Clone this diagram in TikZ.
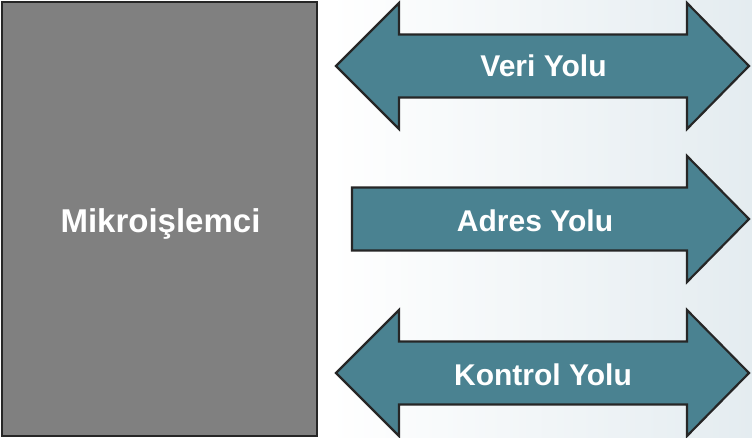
\documentclass[tikz,border=0pt]{standalone}
\usepackage{fontspec}
\setmainfont{Liberation Sans}
\usepackage{tikz}
\definecolor{busfill}{HTML}{4A8291}
\definecolor{boxfill}{HTML}{808080}
\definecolor{edge}{HTML}{262626}
\definecolor{bgright}{HTML}{E4ECF0}
\tikzstyle{bus}=[fill=busfill,draw=edge,line width=2.2pt,line join=miter]
\tikzstyle{lbl}=[text=white,font=\bfseries\fontsize{30}{30}\selectfont,inner sep=0pt,anchor=base]

\begin{document}
\begin{tikzpicture}[x=1pt,y=-1pt]
    \useasboundingbox (0,0) rectangle (752,438);
    \fill[white] (0,0) rectangle (330,438);
    \shade[left color=white,right color=bgright] (330,0) rectangle (752,438);
    % islemci kutusu
    \draw[fill=boxfill,draw=edge,line width=2.2pt] (2,2) rectangle (317,436);
    \node[lbl,font=\bfseries\fontsize{33}{33}\selectfont] (cpu) at (160.5,233) {Mikroişlemci};
    % cift yonlu yollar
    \foreach \y/\n in {66/veri,373/kontrol}
      \draw[bus] (336,\y) -- (399,\y-63) -- (399,\y-31.5) -- (687,\y-31.5)
        -- (687,\y-63) -- (749,\y) -- (687,\y+63) -- (687,\y+31.5)
        -- (399,\y+31.5) -- (399,\y+63) -- cycle;
    % tek yonlu yol
    \draw[bus] (352,187.5) -- (687,187.5) -- (687,156) -- (749,219)
      -- (687,282) -- (687,250.5) -- (352,250.5) -- cycle;
    \node[lbl] (veri) at (543.5,77) {Veri Yolu};
    \node[lbl] (adres) at (535,232) {Adres Yolu};
    \node[lbl] (kontrol) at (543,385) {Kontrol Yolu};
  \end{tikzpicture}
\end{document}
